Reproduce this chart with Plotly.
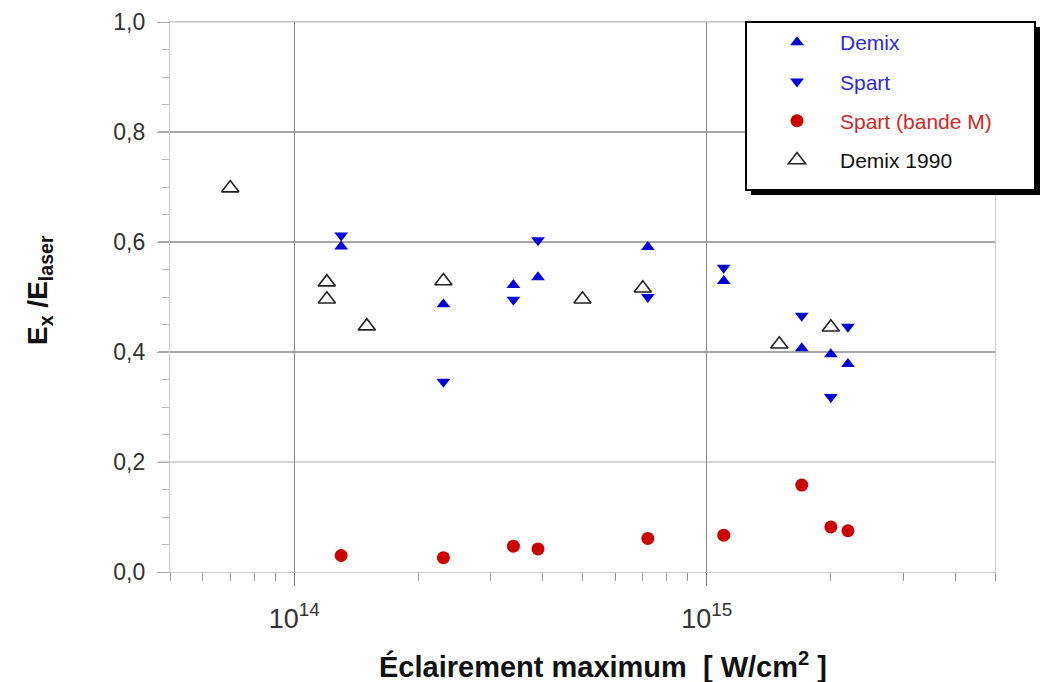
import plotly.graph_objects as go

# ---- data ----
demix_x = [1.3e14, 2.3e14, 3.4e14, 3.9e14, 7.2e14, 1.1e15, 1.7e15, 2.0e15, 2.2e15]
demix_y = [0.592, 0.487, 0.522, 0.536, 0.591, 0.529, 0.407, 0.396, 0.378]

spart_x = [1.3e14, 2.3e14, 3.4e14, 3.9e14, 7.2e14, 1.1e15, 1.7e15, 2.0e15, 2.2e15]
spart_y = [0.612, 0.346, 0.495, 0.603, 0.500, 0.553, 0.466, 0.318, 0.446]

bandeM_x = [1.3e14, 2.3e14, 3.4e14, 3.9e14, 7.2e14, 1.1e15, 1.7e15, 2.0e15, 2.2e15]
bandeM_y = [0.030, 0.026, 0.047, 0.042, 0.061, 0.067, 0.158, 0.082, 0.075]

demix1990_x = [7.0e13, 1.2e14, 1.2e14, 1.5e14, 2.3e14, 5.0e14, 7.0e14, 1.5e15, 2.0e15]
demix1990_y = [0.698, 0.527, 0.496, 0.447, 0.529, 0.496, 0.516, 0.414, 0.445]

names = ["Demix", "Spart", "Spart (bande M)", "Demix 1990"]
y_ticks = [0.0, 0.2, 0.4, 0.6, 0.8, 1.0]
x_major = [1e14, 1e15]
x_major_text = ["10<sup>14</sup>", "10<sup>15</sup>"]
x_minor = [m * 10**e for e in (13, 14, 15) for m in range(2, 10) if 5e13 <= m * 10**e <= 5e15]
x_title = "<b>Éclairement maximum  [ W/cm<sup>2</sup> ]</b>"
y_title = "<b>E<sub>x</sub> /E<sub>laser</sub></b>"

BLUE = "#0000d8"
RED = "#cc0000"
FONT = "Liberation Sans, Arial, sans-serif"

fig = go.Figure()
fig.add_trace(go.Scatter(x=demix_x, y=demix_y, mode="markers", legendgroup="a",
                         name=f'<span style="color:#2b2be0">{names[0]}</span>',
                         marker=dict(symbol="triangle-up", size=12, color=BLUE)))
fig.add_trace(go.Scatter(x=spart_x, y=spart_y, mode="markers", legendgroup="b",
                         name=f'<span style="color:#2b2be0">{names[1]}</span>',
                         marker=dict(symbol="triangle-down", size=12, color=BLUE)))
fig.add_trace(go.Scatter(x=bandeM_x, y=bandeM_y, mode="markers", legendgroup="c",
                         name=f'<span style="color:#d02828">{names[2]}</span>',
                         marker=dict(symbol="circle", size=13, color=RED)))
fig.add_trace(go.Scatter(x=demix1990_x, y=demix1990_y, mode="markers", legendgroup="d",
                         name=f'<span style="color:#111111">{names[3]}</span>',
                         marker=dict(symbol="triangle-up-open", size=15, color="#222222",
                                     line=dict(width=1.6, color="#222222"))))

L, R, T, B = 170, 48, 22, 110
W, H = 1043, 682
pw, ph = W - L - R, H - T - B


def px(xp):
    return (xp - L) / pw


def py(yp):
    return (H - B - yp) / ph


shapes = []
# horizontal grid lines (darker inner ones, lighter outer ones)
for v, c in [(0.2, "#c8c8c8"), (0.4, "#8a8a8a"), (0.6, "#8a8a8a"), (0.8, "#8a8a8a"), (1.0, "#cccccc")]:
    shapes.append(dict(type="line", xref="paper", yref="y", x0=-0.014, x1=1, y0=v, y1=v,
                       line=dict(color=c, width=1.3), layer="below"))
# legend box with drop shadow
shapes.append(dict(type="rect", xref="paper", yref="paper",
                   x0=px(751), x1=px(1040), y0=py(27), y1=py(195),
                   fillcolor="black", line=dict(width=0), layer="above"))
shapes.append(dict(type="rect", xref="paper", yref="paper",
                   x0=px(746), x1=px(1035), y0=py(22), y1=py(190),
                   fillcolor="white", line=dict(color="black", width=2), layer="above"))

annotations = [
    dict(text=x_title, xref="paper", yref="paper", x=px(603), y=py(665),
         xanchor="center", yanchor="middle", showarrow=False,
         font=dict(family=FONT, size=29, color="#111111")),
    dict(text=y_title, xref="paper", yref="paper", x=px(39), y=py(290),
         xanchor="center", yanchor="middle", showarrow=False, textangle=-90,
         font=dict(family=FONT, size=28, color="#111111")),
]

fig.update_layout(
    width=W, height=H,
    margin=dict(l=L, r=R, t=T, b=B, autoexpand=False),
    paper_bgcolor="white", plot_bgcolor="white",
    separators=", ",
    font=dict(family=FONT, color="#333333", size=20),
    shapes=shapes,
    annotations=annotations,
    showlegend=True,
    legend=dict(x=px(754), y=py(22), xanchor="left", yanchor="top",
                bgcolor="rgba(0,0,0,0)", borderwidth=0,
                itemwidth=76, tracegroupgap=9,
                font=dict(family=FONT, size=21, color="#111111")),
)

fig.update_xaxes(
    type="log", range=[13.69897, 15.69897], automargin=False,
    tickmode="array", tickvals=x_major, ticktext=x_major_text,
    ticks="outside", ticklen=13, tickcolor="#777777", tickwidth=1.3,
    ticklabelstandoff=9,
    showgrid=True, gridcolor="#8a8a8a", gridwidth=1.3,
    showline=True, linecolor="#cccccc", linewidth=1.3, mirror=True,
    zeroline=False,
    tickfont=dict(size=27, color="#333333"),
    minor=dict(tickmode="array", tickvals=x_minor, ticks="outside", ticklen=8,
               tickcolor="#999999", tickwidth=1.3, showgrid=False),
)
fig.update_yaxes(
    range=[0, 1.0], tickmode="array", tickvals=y_ticks, tickformat=".1f",
    automargin=False,
    ticks="outside", ticklen=12, tickcolor="#aaaaaa", tickwidth=1.3,
    ticklabelstandoff=7,
    showgrid=False, zeroline=False,
    showline=True, linecolor="#cccccc", linewidth=1.3, mirror=True,
    tickfont=dict(size=23, color="#333333"),
    minor=dict(dtick=0.05, ticks="outside", ticklen=7, tickcolor="#bbbbbb",
               tickwidth=1.3, showgrid=False),
)

fig.write_html("out.html")
